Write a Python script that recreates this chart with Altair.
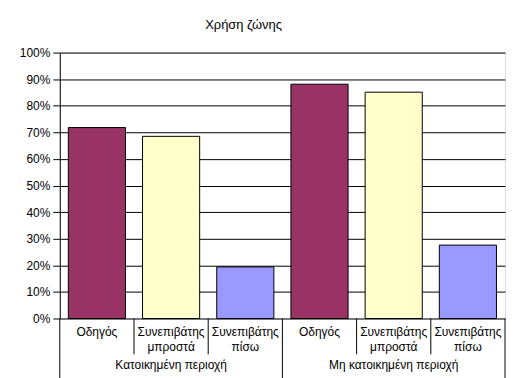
import altair as alt
import pandas as pd

groups = ["Κατοικημένη περιοχή", "Μη κατοικημένη περιοχή"]
categories = ["Οδηγός", "Συνεπιβάτης\nμπροστά", "Συνεπιβάτης\nπίσω"]
values_res = [0.718, 0.685, 0.194]
values_non = [0.881, 0.851, 0.276]
colors = ["#993366", "#FFFFCC", "#9999FF"]
y_ticks = [i / 10 for i in range(11)]

rows = []
for g, vals in zip(groups, [values_res, values_non]):
    for i, (c, v) in enumerate(zip(categories, vals)):
        rows.append({"group": g, "cat": c, "key": f"{g}|{i}", "value": v,
                     "first": i == 0, "last": False})
rows[-1]["last"] = True
df = pd.DataFrame(rows)
keys = list(df["key"])

W, H = 447, 267
FONT = "Liberation Sans"

bar_scale = alt.Scale(domain=keys, paddingInner=0.23, paddingOuter=0.115)
cell_scale = alt.Scale(domain=keys, paddingInner=0, paddingOuter=0)
yscale = alt.Scale(domain=[0, 1])

base = alt.Chart(df)

bars = base.mark_bar(stroke="black", strokeWidth=1).encode(
    x=alt.X("key:N", scale=bar_scale, axis=None, sort=keys),
    y=alt.Y("value:Q", scale=yscale,
            axis=alt.Axis(values=y_ticks, format=".0%", title=None, grid=True,
                          gridColor="black", gridOpacity=1, gridWidth=1,
                          domainColor="black", tickColor="black", tickSize=7,
                          labelPadding=3, labelFontSize=12, labelFont=FONT,
                          labelColor="black")),
    color=alt.Color("cat:N", scale=alt.Scale(domain=categories, range=colors), legend=None),
)

inner_sep = base.transform_filter("!datum.first").mark_rule(color="black").encode(
    x=alt.X("key:N", scale=cell_scale, axis=None, bandPosition=0, sort=keys),
    y=alt.value(H), y2=alt.value(H + 36),
)
group_sep = base.transform_filter("datum.first").mark_rule(color="black").encode(
    x=alt.X("key:N", scale=cell_scale, axis=None, bandPosition=0, sort=keys),
    y=alt.value(H), y2=alt.value(H + 60),
)
end_sep = base.transform_filter("datum.last").mark_rule(color="black").encode(
    x=alt.X("key:N", scale=cell_scale, axis=None, bandPosition=1, sort=keys),
    y=alt.value(H), y2=alt.value(H + 60),
)

cat_labels = base.mark_text(baseline="top", fontSize=12, font=FONT, lineBreak="\n",
                            color="black", lineHeight=15).encode(
    x=alt.X("key:N", scale=cell_scale, axis=None, sort=keys),
    y=alt.value(H + 9),
    text="cat:N",
)

gdf = pd.DataFrame({"group": groups})
grp_labels = alt.Chart(gdf).mark_text(baseline="top", fontSize=12, font=FONT, color="black").encode(
    x=alt.X("group:N", scale=alt.Scale(domain=groups, paddingInner=0, paddingOuter=0),
            axis=None, sort=groups),
    y=alt.value(H + 42),
    text="group:N",
)

chart = alt.layer(bars, inner_sep, group_sep, end_sep, cat_labels, grp_labels).resolve_scale(
    x="independent"
).properties(
    width=W, height=H,
    title=alt.TitleParams("Χρήση ζώνης", fontSize=13, font=FONT, fontWeight="normal",
                          color="black", anchor="middle", dx=-39, offset=15),
    padding={"left": 11, "top": 10, "right": 0, "bottom": 0},
).configure_view(
    fill="#C0C0C0", stroke="#808080", strokeWidth=1
).configure(background="white")

chart.save("out.html", embed_options={"renderer": "svg", "actions": False})
